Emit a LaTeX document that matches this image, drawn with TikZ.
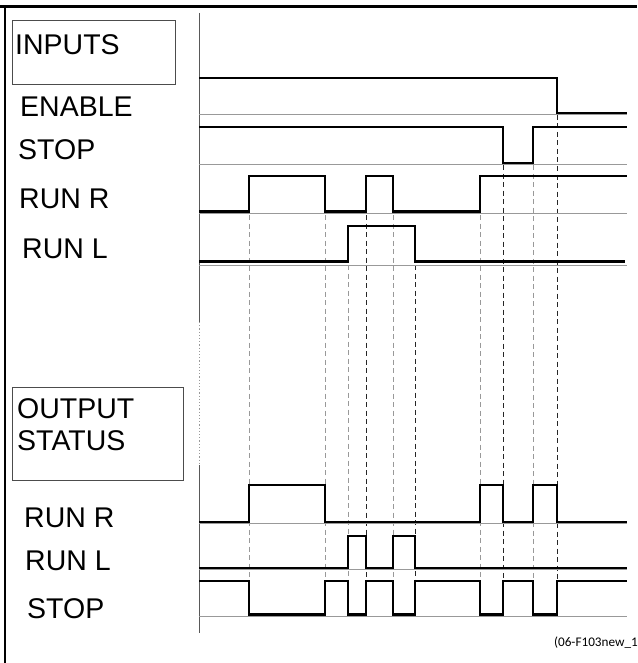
\documentclass[tikz,border=0pt]{standalone}
\usepackage{fontspec}
\setmainfont{Liberation Sans}
\newfontfamily\notefont{Carlito}
\begin{document}
\begin{tikzpicture}[x=1pt,y=-1pt,
  lbl/.style={anchor=base west,inner sep=0pt,font=\fontsize{28.5}{31}\selectfont},
  sig/.style={line width=2.7pt,black,line join=miter},
  base/.style={line width=0.9pt,gray!80},
  tickg/.style={line width=1pt,gray!80,dash pattern=on 5pt off 3.5pt},
  tickk/.style={line width=1pt,black!85,dash pattern=on 5pt off 3.5pt},
  hdrbox/.style={draw=black!70,line width=0.9pt}]
\useasboundingbox (0,0) rectangle (637,663);
% frame
\draw[line width=2.5pt] (0,6.5) -- (637,6.5);
\draw[line width=1.8pt] (4.8,6.5) -- (4.8,663);
% axis
\draw[line width=1pt,black!65] (199,13) -- (199,322);
\draw[line width=1pt,gray!80,dash pattern=on 1.2pt off 2pt] (199,322) -- (199,465);
\draw[line width=1pt,black!65] (199,465) -- (199,633);
% header boxes
\draw[hdrbox] (12.5,20) rectangle (175,84);
\draw[hdrbox] (12.5,387) rectangle (183,480);
% labels
\node[lbl] (tin) at (15,55) {INPUTS};
\node[lbl] (len) at (20,117) {ENABLE};
\node[lbl] (lst) at (18,160) {STOP};
\node[lbl] (lrr) at (19,208) {RUN R};
\node[lbl] (lrl) at (22,258) {RUN L};
\node[lbl] (tout) at (17,418) {OUTPUT};
\node[lbl] (tstat) at (17,450) {STATUS};
\node[lbl] (orr) at (24,527) {RUN R};
\node[lbl] (orl) at (25,570) {RUN L};
\node[lbl] (ost) at (27,618) {STOP};
\node[anchor=base east,inner sep=0pt,font=\notefont\fontsize{13.2}{15}\selectfont] (note) at (638,646) {(06-F103new\_1};
% dashed time markers
\draw[tickg] (249,215) -- (249,581);
\draw[tickg] (325,215) -- (325,581);
\draw[tickg] (348,265) -- (348,581);
\draw[tickk] (366,215) -- (366,581);
\draw[tickg] (393,215) -- (393,581);
\draw[tickk] (415,265) -- (415,581);
\draw[tickg] (480,215) -- (480,581);
\draw[tickk] (503,165) -- (503,581);
\draw[tickg] (533,165) -- (533,581);
\draw[tickk] (557,115) -- (557,581);
% baselines
\foreach \yy in {114.5,164,213.5,265,523.5,569.5,616}
  \draw[base] (199,\yy) -- (627,\yy);
% input signals
\draw[sig] (199,78) -- (557,78) -- (557,113) -- (627,113);
\draw[sig] (199,127) -- (503,127) -- (503,163) -- (533,163) -- (533,127) -- (627,127);
\draw[sig] (199,211.5) -- (249,211.5) -- (249,176) -- (325,176) -- (325,211.5) -- (366,211.5) -- (366,176) -- (393,176) -- (393,211.5) -- (480,211.5) -- (480,176) -- (627,176);
\draw[sig] (199,261.5) -- (348,261.5) -- (348,226) -- (415,226) -- (415,261.5) -- (625,261.5);
% output signals
\draw[sig] (199,522) -- (249,522) -- (249,485) -- (325,485) -- (325,522) -- (480,522) -- (480,485) -- (503,485) -- (503,522) -- (533,522) -- (533,485) -- (557,485) -- (557,522) -- (627,522);
\draw[sig] (199,568) -- (348,568) -- (348,536) -- (366,536) -- (366,568) -- (393,568) -- (393,536) -- (415,536) -- (415,568) -- (627,568);
\draw[sig] (199,581) -- (249,581) -- (249,614.5) -- (325,614.5) -- (325,581) -- (348,581) -- (348,614.5) -- (366,614.5) -- (366,581) -- (393,581) -- (393,614.5) -- (415,614.5) -- (415,581) -- (480,581) -- (480,614.5) -- (503,614.5) -- (503,581) -- (533,581) -- (533,614.5) -- (557,614.5) -- (557,581) -- (627,581);
\end{tikzpicture}
\end{document}
